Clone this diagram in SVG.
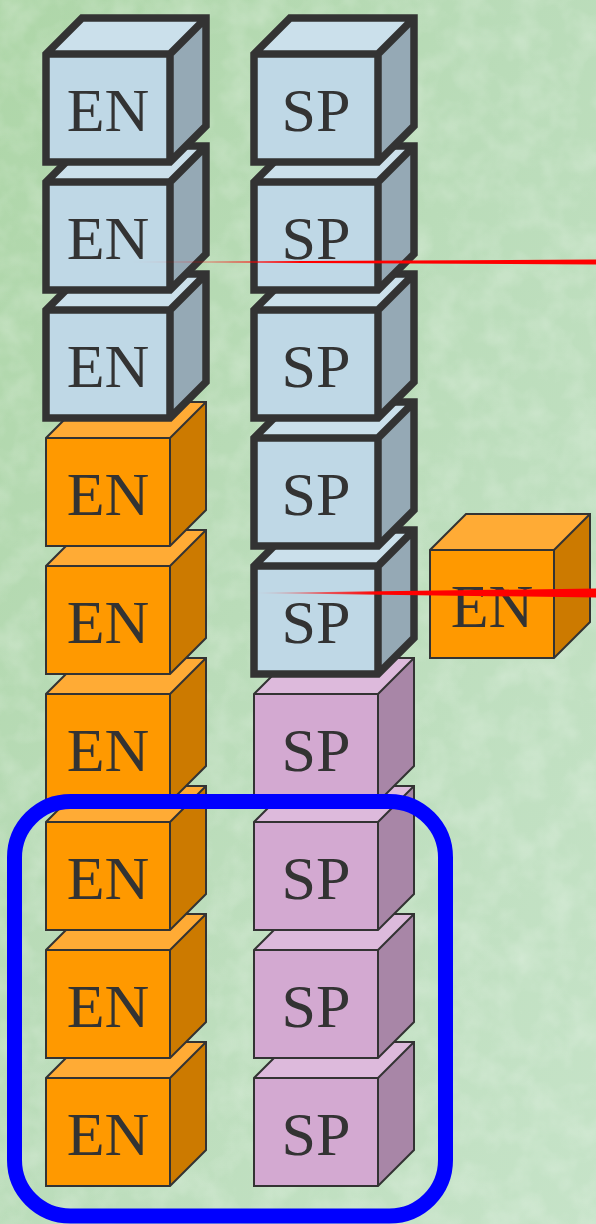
<svg xmlns="http://www.w3.org/2000/svg" width="596" height="1224" viewBox="0 0 596 1224">
<defs>
<linearGradient id="bg" x1="0" y1="0" x2="1" y2="1">
<stop offset="0" stop-color="#AED6A8"/>
<stop offset="0.45" stop-color="#BADCB9"/>
<stop offset="1" stop-color="#C6E3C8"/>
</linearGradient>
<filter id="tex" x="0" y="0" width="100%" height="100%">
<feTurbulence type="fractalNoise" baseFrequency="0.035" numOctaves="3" seed="4" result="n"/>
<feColorMatrix in="n" type="matrix" values="0 0 0 0 1  0 0 0 0 1  0 0 0 0 1  0 0 0 -1.2 0.75" result="w"/>
<feComposite in="w" in2="SourceGraphic" operator="in"/>
</filter>
<linearGradient id="red1" gradientUnits="userSpaceOnUse" x1="125" y1="0" x2="300" y2="0">
<stop offset="0" stop-color="#FF0000" stop-opacity="0"/>
<stop offset="1" stop-color="#FF0000"/>
</linearGradient>
<linearGradient id="red2" gradientUnits="userSpaceOnUse" x1="245" y1="0" x2="380" y2="0">
<stop offset="0" stop-color="#FF0000" stop-opacity="0"/>
<stop offset="1" stop-color="#FF0000"/>
</linearGradient>
<style>
.cube .top,.cube .side,.cube .front{stroke:none}
.cube .edge{fill:none;stroke:#333333;stroke-width:2;stroke-linejoin:miter;stroke-miterlimit:4}
.thick .edge{stroke-width:7.5}
.blue .top{fill:#CBE0EB}.blue .side{fill:#95A9B5}.blue .front{fill:#BFD8E6}
.orange .top{fill:#FFAB35}.orange .side{fill:#CC7A00}.orange .front{fill:#FF9900}
.pink .top{fill:#DDBADC}.pink .side{fill:#A886A7}.pink .front{fill:#D3A9D1}
.lbl{font-family:"Liberation Serif","Times New Roman",serif;font-size:62px;fill:#333333;text-anchor:middle}
</style>
</defs>
<rect width="596" height="1224" fill="url(#bg)"/>
<rect width="596" height="1224" fill="#ffffff" filter="url(#tex)" opacity="0.35"/>

<!-- EN column, drawn bottom to top -->
<g id="en9" class="cube orange" transform="translate(46,1078)"><polygon class="top" points="0,0 124,0 160,-36 36,-36"/><polygon class="side" points="124,0 160,-36 160,72 124,108"/><rect class="front" x="0" y="0" width="124" height="108"/><path class="edge" d="M0,108 V0 L36,-36 H160 V72 L124,108 Z M0,0 H124 V108 M124,0 L160,-36"/><text class="lbl" x="62" y="77">EN</text></g>
<g id="en8" class="cube orange" transform="translate(46,950)"><polygon class="top" points="0,0 124,0 160,-36 36,-36"/><polygon class="side" points="124,0 160,-36 160,72 124,108"/><rect class="front" x="0" y="0" width="124" height="108"/><path class="edge" d="M0,108 V0 L36,-36 H160 V72 L124,108 Z M0,0 H124 V108 M124,0 L160,-36"/><text class="lbl" x="62" y="77">EN</text></g>
<g id="en7" class="cube orange" transform="translate(46,822)"><polygon class="top" points="0,0 124,0 160,-36 36,-36"/><polygon class="side" points="124,0 160,-36 160,72 124,108"/><rect class="front" x="0" y="0" width="124" height="108"/><path class="edge" d="M0,108 V0 L36,-36 H160 V72 L124,108 Z M0,0 H124 V108 M124,0 L160,-36"/><text class="lbl" x="62" y="77">EN</text></g>
<g id="en6" class="cube orange" transform="translate(46,694)"><polygon class="top" points="0,0 124,0 160,-36 36,-36"/><polygon class="side" points="124,0 160,-36 160,72 124,108"/><rect class="front" x="0" y="0" width="124" height="108"/><path class="edge" d="M0,108 V0 L36,-36 H160 V72 L124,108 Z M0,0 H124 V108 M124,0 L160,-36"/><text class="lbl" x="62" y="77">EN</text></g>
<g id="en5" class="cube orange" transform="translate(46,566)"><polygon class="top" points="0,0 124,0 160,-36 36,-36"/><polygon class="side" points="124,0 160,-36 160,72 124,108"/><rect class="front" x="0" y="0" width="124" height="108"/><path class="edge" d="M0,108 V0 L36,-36 H160 V72 L124,108 Z M0,0 H124 V108 M124,0 L160,-36"/><text class="lbl" x="62" y="77">EN</text></g>
<g id="en4" class="cube orange" transform="translate(46,438)"><polygon class="top" points="0,0 124,0 160,-36 36,-36"/><polygon class="side" points="124,0 160,-36 160,72 124,108"/><rect class="front" x="0" y="0" width="124" height="108"/><path class="edge" d="M0,108 V0 L36,-36 H160 V72 L124,108 Z M0,0 H124 V108 M124,0 L160,-36"/><text class="lbl" x="62" y="77">EN</text></g>
<g id="en3" class="cube blue thick" transform="translate(46,310)"><polygon class="top" points="0,0 124,0 160,-36 36,-36"/><polygon class="side" points="124,0 160,-36 160,72 124,108"/><rect class="front" x="0" y="0" width="124" height="108"/><path class="edge" d="M0,108 V0 L36,-36 H160 V72 L124,108 Z M0,0 H124 V108 M124,0 L160,-36"/><text class="lbl" x="62" y="77">EN</text></g>
<g id="en2" class="cube blue thick" transform="translate(46,182)"><polygon class="top" points="0,0 124,0 160,-36 36,-36"/><polygon class="side" points="124,0 160,-36 160,72 124,108"/><rect class="front" x="0" y="0" width="124" height="108"/><path class="edge" d="M0,108 V0 L36,-36 H160 V72 L124,108 Z M0,0 H124 V108 M124,0 L160,-36"/><text class="lbl" x="62" y="77">EN</text></g>
<g id="en1" class="cube blue thick" transform="translate(46,54)"><polygon class="top" points="0,0 124,0 160,-36 36,-36"/><polygon class="side" points="124,0 160,-36 160,72 124,108"/><rect class="front" x="0" y="0" width="124" height="108"/><path class="edge" d="M0,108 V0 L36,-36 H160 V72 L124,108 Z M0,0 H124 V108 M124,0 L160,-36"/><text class="lbl" x="62" y="77">EN</text></g>

<!-- SP column, drawn bottom to top -->
<g id="sp9" class="cube pink" transform="translate(254,1078)"><polygon class="top" points="0,0 124,0 160,-36 36,-36"/><polygon class="side" points="124,0 160,-36 160,72 124,108"/><rect class="front" x="0" y="0" width="124" height="108"/><path class="edge" d="M0,108 V0 L36,-36 H160 V72 L124,108 Z M0,0 H124 V108 M124,0 L160,-36"/><text class="lbl" x="62" y="77">SP</text></g>
<g id="sp8" class="cube pink" transform="translate(254,950)"><polygon class="top" points="0,0 124,0 160,-36 36,-36"/><polygon class="side" points="124,0 160,-36 160,72 124,108"/><rect class="front" x="0" y="0" width="124" height="108"/><path class="edge" d="M0,108 V0 L36,-36 H160 V72 L124,108 Z M0,0 H124 V108 M124,0 L160,-36"/><text class="lbl" x="62" y="77">SP</text></g>
<g id="sp7" class="cube pink" transform="translate(254,822)"><polygon class="top" points="0,0 124,0 160,-36 36,-36"/><polygon class="side" points="124,0 160,-36 160,72 124,108"/><rect class="front" x="0" y="0" width="124" height="108"/><path class="edge" d="M0,108 V0 L36,-36 H160 V72 L124,108 Z M0,0 H124 V108 M124,0 L160,-36"/><text class="lbl" x="62" y="77">SP</text></g>
<g id="sp6" class="cube pink" transform="translate(254,694)"><polygon class="top" points="0,0 124,0 160,-36 36,-36"/><polygon class="side" points="124,0 160,-36 160,72 124,108"/><rect class="front" x="0" y="0" width="124" height="108"/><path class="edge" d="M0,108 V0 L36,-36 H160 V72 L124,108 Z M0,0 H124 V108 M124,0 L160,-36"/><text class="lbl" x="62" y="77">SP</text></g>
<g id="sp5" class="cube blue thick" transform="translate(254,566)"><polygon class="top" points="0,0 124,0 160,-36 36,-36"/><polygon class="side" points="124,0 160,-36 160,72 124,108"/><rect class="front" x="0" y="0" width="124" height="108"/><path class="edge" d="M0,108 V0 L36,-36 H160 V72 L124,108 Z M0,0 H124 V108 M124,0 L160,-36"/><text class="lbl" x="62" y="77">SP</text></g>
<g id="sp4" class="cube blue thick" transform="translate(254,438)"><polygon class="top" points="0,0 124,0 160,-36 36,-36"/><polygon class="side" points="124,0 160,-36 160,72 124,108"/><rect class="front" x="0" y="0" width="124" height="108"/><path class="edge" d="M0,108 V0 L36,-36 H160 V72 L124,108 Z M0,0 H124 V108 M124,0 L160,-36"/><text class="lbl" x="62" y="77">SP</text></g>
<g id="sp3" class="cube blue thick" transform="translate(254,310)"><polygon class="top" points="0,0 124,0 160,-36 36,-36"/><polygon class="side" points="124,0 160,-36 160,72 124,108"/><rect class="front" x="0" y="0" width="124" height="108"/><path class="edge" d="M0,108 V0 L36,-36 H160 V72 L124,108 Z M0,0 H124 V108 M124,0 L160,-36"/><text class="lbl" x="62" y="77">SP</text></g>
<g id="sp2" class="cube blue thick" transform="translate(254,182)"><polygon class="top" points="0,0 124,0 160,-36 36,-36"/><polygon class="side" points="124,0 160,-36 160,72 124,108"/><rect class="front" x="0" y="0" width="124" height="108"/><path class="edge" d="M0,108 V0 L36,-36 H160 V72 L124,108 Z M0,0 H124 V108 M124,0 L160,-36"/><text class="lbl" x="62" y="77">SP</text></g>
<g id="sp1" class="cube blue thick" transform="translate(254,54)"><polygon class="top" points="0,0 124,0 160,-36 36,-36"/><polygon class="side" points="124,0 160,-36 160,72 124,108"/><rect class="front" x="0" y="0" width="124" height="108"/><path class="edge" d="M0,108 V0 L36,-36 H160 V72 L124,108 Z M0,0 H124 V108 M124,0 L160,-36"/><text class="lbl" x="62" y="77">SP</text></g>

<!-- standalone EN -->
<g id="en-single" class="cube orange" transform="translate(430,550)"><polygon class="top" points="0,0 124,0 160,-36 36,-36"/><polygon class="side" points="124,0 160,-36 160,72 124,108"/><rect class="front" x="0" y="0" width="124" height="108"/><path class="edge" d="M0,108 V0 L36,-36 H160 V72 L124,108 Z M0,0 H124 V108 M124,0 L160,-36"/><text class="lbl" x="62" y="77">EN</text></g>

<!-- selection frame -->
<rect id="selection" x="14.5" y="801.5" width="431" height="414.5" rx="56" ry="56" fill="none" stroke="#0000FF" stroke-width="15"/>

<!-- connectors -->
<g id="connectors">
<polygon points="125,262 596,259.5 596,264.5" fill="url(#red1)"/>
<polygon points="245,593 596,588.5 596,597.5" fill="url(#red2)"/>
</g>
</svg>
